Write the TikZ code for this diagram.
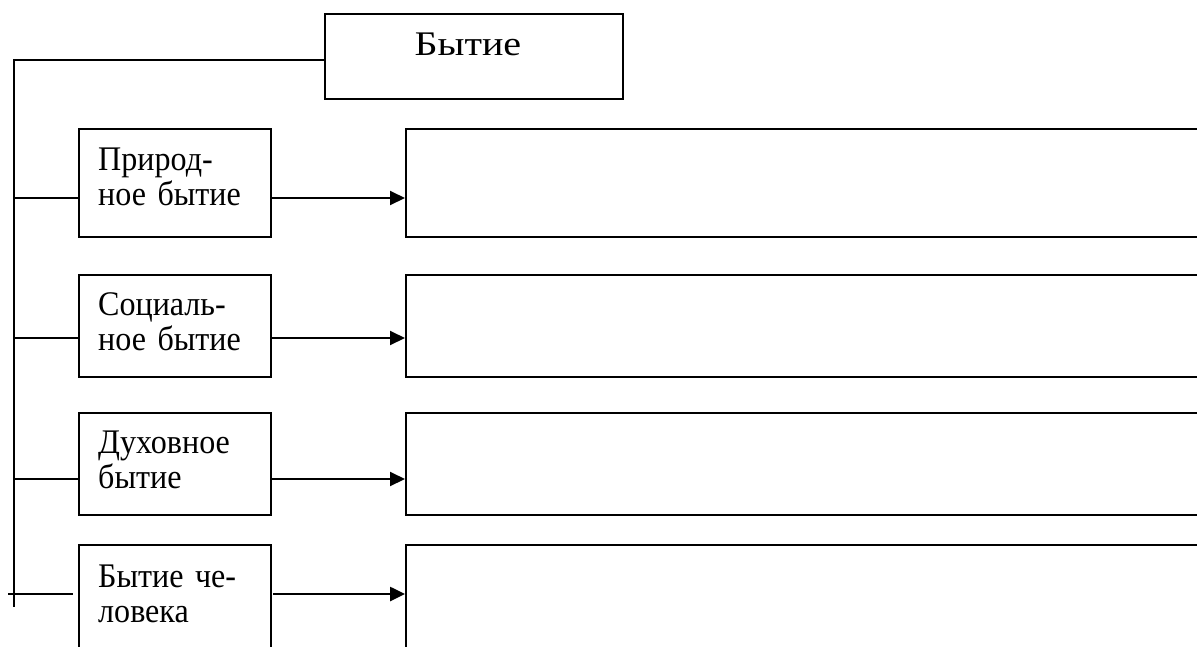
\documentclass[tikz,border=0pt]{standalone}
\usepackage{fontspec}
\setmainfont{Liberation Serif}
\newfontfamily\widerm[FakeStretch=1.16]{Liberation Serif}
\newfontfamily\narrowrm[FakeStretch=0.93]{Liberation Serif}
\usetikzlibrary{arrows.meta}
\tikzset{
  frame/.style={draw, line width=2pt, rectangle, inner sep=0pt, anchor=north west},
  toplbl/.style={inner sep=0pt, font=\widerm\fontsize{34.5}{35}\selectfont},
  txt/.style={inner sep=0pt, anchor=base west, align=left, text width=180pt,
              font=\narrowrm\fontsize{34.5}{35}\selectfont},
  wire/.style={line width=2pt},
  arr/.style={line width=2pt, -{Triangle[length=15pt,width=14pt]}}
}
\begin{document}
\begin{tikzpicture}[x=1pt,y=-1pt]
\useasboundingbox (0,0) rectangle (1197,646);
\clip (0,0) rectangle (1197,646);
% top box
\node[frame, minimum width=298pt, minimum height=85pt] (top) at (324,13) {};
\node[toplbl, anchor=base] (toptxt) at (468,55) {Бытие};
% left boxes
\node[frame, minimum width=192pt, minimum height=108pt] (b1) at (78,128) {};
\node[frame, minimum width=192pt, minimum height=102pt] (b2) at (78,274) {};
\node[frame, minimum width=192pt, minimum height=102pt] (b3) at (78,412) {};
\node[frame, minimum width=192pt, minimum height=120pt] (b4) at (78,544) {};
% texts
\node[txt] (t1) at (98,170) {Природ-\\ное бытие};
\node[txt] (t2) at (98,315) {Социаль-\\ное бытие};
\node[txt] (t3) at (98,453) {Духовное\\бытие};
\node[txt] (t4) at (98,587) {Бытие че-\\ловека};
% right boxes
\node[frame, minimum width=830pt, minimum height=108pt] (r1) at (405,128) {};
\node[frame, minimum width=830pt, minimum height=102pt] (r2) at (405,274) {};
\node[frame, minimum width=830pt, minimum height=102pt] (r3) at (405,412) {};
\node[frame, minimum width=830pt, minimum height=120pt] (r4) at (405,544) {};
% spine
\coordinate (s0) at (14,60);
\coordinate (s5) at (14,607);
\coordinate (s1) at (14,198);
\coordinate (s2) at (14,338);
\coordinate (s3) at (14,479);
\coordinate (s4) at (8,594);
\draw[wire] (top.west |- s0) -- (s0) -- (s5);
\draw[wire] (s1) -- (s1 -| b1.west);
\draw[wire] (s2) -- (s2 -| b2.west);
\draw[wire] (s3) -- (s3 -| b3.west);
\coordinate (e4) at (73,594);
\draw[wire] (s4) -- (e4);
% arrows
\draw[arr] (b1.east |- s1) -- (r1.west |- s1);
\draw[arr] (b2.east |- s2) -- (r2.west |- s2);
\draw[arr] (b3.east |- s3) -- (r3.west |- s3);
\coordinate (a4) at (273,594);
\draw[arr, line width=2.6pt] (a4) -- (r4.west |- a4);
\end{tikzpicture}
\end{document}
